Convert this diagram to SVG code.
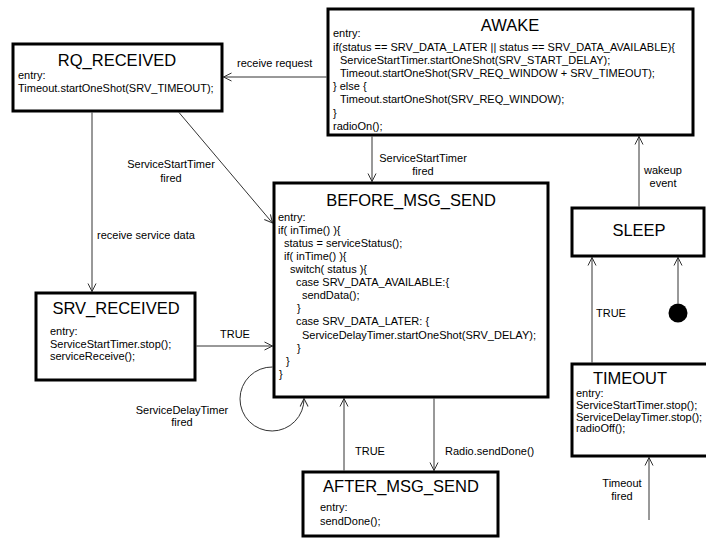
<svg xmlns="http://www.w3.org/2000/svg" width="706" height="541" viewBox="0 0 706 541">
<style>
  text { font-family: "Liberation Sans", Arial, sans-serif; fill: #000; }
  .title { font-size: 16.5px; text-anchor: middle; }
  .code { font-size: 11px; }
  .lbl { font-size: 11px; }
  .mid { text-anchor: middle; }
  .box { fill: #fff; stroke: #000; stroke-width: 3; }
  .conn { fill: none; stroke: #333; stroke-width: 1; }
</style>
<defs>
  <marker id="arr" markerWidth="10" markerHeight="10" refX="9" refY="5" orient="auto" markerUnits="userSpaceOnUse">
    <path d="M1,1 L9,5 L1,9" fill="none" stroke="#333" stroke-width="1"/>
  </marker>
</defs>
<rect width="706" height="541" fill="#fff"/>

<g id="connectors">
  <path class="conn" d="M326.5,77 L223.5,77" marker-end="url(#arr)"/>
  <path class="conn" d="M92,112.5 L92,291.5" marker-end="url(#arr)"/>
  <path class="conn" d="M179,112.5 L272.5,223" marker-end="url(#arr)"/>
  <path class="conn" d="M372,136.5 L372,181.5" marker-end="url(#arr)"/>
  <path class="conn" d="M639,206.5 L639,136.5" marker-end="url(#arr)"/>
  <path class="conn" d="M196.5,346 L272.5,346" marker-end="url(#arr)"/>
  <path class="conn" d="M272.5,367 A32,32 0 1 0 304,398.5" marker-end="url(#arr)"/>
  <path class="conn" d="M344,470.5 L344,398.5" marker-end="url(#arr)"/>
  <path class="conn" d="M434,398.5 L434,470.5" marker-end="url(#arr)"/>
  <path class="conn" d="M592,362.5 L592,257.5" marker-end="url(#arr)"/>
  <path class="conn" d="M678,303.5 L678,257.5" marker-end="url(#arr)"/>
  <circle cx="678" cy="313" r="9.5" fill="#000"/>
  <path class="conn" d="M649,520 L649,457.5" marker-end="url(#arr)"/>

  <text class="lbl" x="237" y="67">receive request</text>
  <text class="lbl mid" x="171" y="168">ServiceStartTimer</text>
  <text class="lbl mid" x="171" y="182">fired</text>
  <text class="lbl" x="97" y="239">receive service data</text>
  <text class="lbl mid" x="423" y="162">ServiceStartTimer</text>
  <text class="lbl mid" x="423" y="175">fired</text>
  <text class="lbl mid" x="663" y="174">wakeup</text>
  <text class="lbl mid" x="663" y="187">event</text>
  <text class="lbl" x="220" y="338">TRUE</text>
  <text class="lbl mid" x="182" y="414">ServiceDelayTimer</text>
  <text class="lbl mid" x="182" y="426">fired</text>
  <text class="lbl" x="355" y="455">TRUE</text>
  <text class="lbl" x="445" y="455">Radio.sendDone()</text>
  <text class="lbl" x="596" y="317">TRUE</text>
  <text class="lbl mid" x="622" y="487">Timeout</text>
  <text class="lbl mid" x="622" y="500">fired</text>
</g>

<g id="AWAKE">
  <rect class="box" x="328" y="9" width="365" height="126"/>
  <text class="title" x="510" y="31">AWAKE</text>
  <text class="code" x="333" y="37">entry:</text>
  <text class="code" x="333" y="51">if(status == SRV_DATA_LATER || status == SRV_DATA_AVAILABLE){</text>
  <text class="code" x="340" y="64">ServiceStartTimer.startOneShot(SRV_START_DELAY);</text>
  <text class="code" x="340" y="77">Timeout.startOneShot(SRV_REQ_WINDOW + SRV_TIMEOUT);</text>
  <text class="code" x="333" y="90">} else {</text>
  <text class="code" x="340" y="103">Timeout.startOneShot(SRV_REQ_WINDOW);</text>
  <text class="code" x="333" y="117">}</text>
  <text class="code" x="333" y="130">radioOn();</text>
</g>

<g id="RQ_RECEIVED">
  <rect class="box" x="13" y="44" width="209" height="67"/>
  <text class="title" x="117" y="66">RQ_RECEIVED</text>
  <text class="code" x="18" y="79">entry:</text>
  <text class="code" x="18" y="92">Timeout.startOneShot(SRV_TIMEOUT);</text>
</g>

<g id="BEFORE_MSG_SEND">
  <rect class="box" x="274" y="183" width="274" height="214"/>
  <text class="title" x="411" y="206">BEFORE_MSG_SEND</text>
  <text class="code" x="278" y="221">entry:</text>
  <text class="code" x="278" y="234">if( inTime() ){</text>
  <text class="code" x="284" y="247">status = serviceStatus();</text>
  <text class="code" x="284" y="260">if( inTime() ){</text>
  <text class="code" x="290" y="273">switch( status ){</text>
  <text class="code" x="296" y="286">case SRV_DATA_AVAILABLE:{</text>
  <text class="code" x="302" y="299">sendData();</text>
  <text class="code" x="297" y="312">}</text>
  <text class="code" x="296" y="325">case SRV_DATA_LATER: {</text>
  <text class="code" x="302" y="339">ServiceDelayTimer.startOneShot(SRV_DELAY);</text>
  <text class="code" x="297" y="352">}</text>
  <text class="code" x="286" y="365">}</text>
  <text class="code" x="279" y="378">}</text>
</g>

<g id="SRV_RECEIVED">
  <rect class="box" x="36" y="293" width="159" height="87"/>
  <text class="title" x="116" y="314">SRV_RECEIVED</text>
  <text class="code" x="50" y="335">entry:</text>
  <text class="code" x="50" y="348">ServiceStartTimer.stop();</text>
  <text class="code" x="50" y="360">serviceReceive();</text>
</g>

<g id="AFTER_MSG_SEND">
  <rect class="box" x="303" y="472" width="195" height="64"/>
  <text class="title" x="401" y="492">AFTER_MSG_SEND</text>
  <text class="code" x="320" y="511">entry:</text>
  <text class="code" x="320" y="525">sendDone();</text>
</g>

<g id="SLEEP">
  <rect class="box" x="572" y="208" width="132" height="48"/>
  <text class="title" x="639" y="236">SLEEP</text>
</g>

<g id="TIMEOUT">
  <rect class="box" x="572" y="364" width="140" height="92"/>
  <text class="title" x="630" y="384">TIMEOUT</text>
  <text class="code" x="576" y="397">entry:</text>
  <text class="code" x="576" y="409">ServiceStartTimer.stop();</text>
  <text class="code" x="576" y="421">ServiceDelayTimer.stop();</text>
  <text class="code" x="576" y="432">radioOff();</text>
</g>
</svg>
